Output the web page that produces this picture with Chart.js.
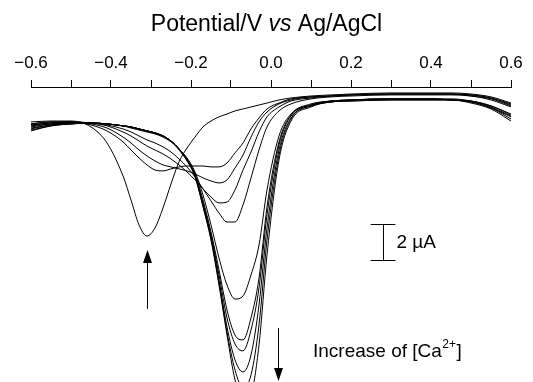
<!DOCTYPE html>
<html>
<head>
<meta charset="utf-8">
<script src="https://cdn.jsdelivr.net/npm/chart.js@4.4.0/dist/chart.umd.min.js"></script>
<style>
  html, body { margin: 0; padding: 0; background: #fff; }
  #wrap { width: 533px; height: 382px; }
</style>
</head>
<body>
<div id="wrap"><canvas id="cv" width="533" height="382"></canvas></div>
<script>
// potential (V vs Ag/AgCl), shared by every scan
const potential = [-0.6, -0.55, -0.5, -0.45, -0.41, -0.37, -0.35, -0.33, -0.31, -0.29, -0.27, -0.25, -0.23, -0.21, -0.19, -0.17, -0.15, -0.13, -0.11, -0.09, -0.07, -0.05, -0.03, -0.01, 0.02, 0.05, 0.1, 0.15, 0.2, 0.3, 0.4, 0.45, 0.5, 0.55, 0.6];

// current in uA, one scan per Ca2+ addition
const scan0 = [-1.22, -1.17, -1.17, -1.5, -2.39, -4.22, -5.56, -6.94, -7.56, -7.11, -6.0, -4.67, -3.44, -2.67, -2.06, -1.5, -1.17, -0.94, -0.78, -0.61, -0.5, -0.39, -0.28, -0.17, 0, 0.11, 0.22, 0.28, 0.33, 0.39, 0.39, 0.39, 0.33, 0.17, -0.17];
const scan1 = [-1.33, -1.22, -1.22, -1.39, -1.72, -2.33, -2.78, -3.22, -3.61, -3.89, -3.94, -3.83, -3.72, -3.67, -3.67, -3.67, -3.72, -3.72, -3.5, -2.94, -2.39, -1.61, -1.0, -0.5, -0.17, 0.06, 0.17, 0.22, 0.28, 0.33, 0.33, 0.33, 0.28, 0.11, -0.22];
const scan2 = [-1.33, -1.22, -1.22, -1.33, -1.56, -2.06, -2.39, -2.78, -3.11, -3.39, -3.61, -3.72, -3.83, -3.94, -4.11, -4.33, -4.5, -4.61, -4.44, -3.78, -3.06, -2.06, -1.22, -0.67, -0.22, 0, 0.17, 0.22, 0.28, 0.33, 0.33, 0.33, 0.28, 0.11, -0.28];
const scan3 = [-1.39, -1.28, -1.22, -1.28, -1.44, -1.78, -2.0, -2.28, -2.56, -2.78, -3.0, -3.28, -3.61, -4.0, -4.44, -4.94, -5.39, -5.72, -5.67, -5.0, -3.89, -2.89, -1.78, -0.94, -0.39, -0.06, 0.11, 0.22, 0.28, 0.33, 0.33, 0.33, 0.22, 0.06, -0.33];
const scan4 = [-1.39, -1.28, -1.22, -1.28, -1.39, -1.61, -1.78, -2.0, -2.22, -2.39, -2.61, -2.89, -3.28, -3.72, -4.28, -4.94, -5.61, -6.28, -6.78, -6.78, -5.83, -4.33, -2.78, -1.5, -0.61, -0.22, 0.06, 0.17, 0.22, 0.28, 0.28, 0.28, 0.22, 0, -0.39];
const scan5 = [-1.44, -1.33, -1.28, -1.28, -1.33, -1.44, -1.56, -1.67, -1.78, -1.89, -2.06, -2.33, -2.72, -3.22, -4.0, -5.28, -6.94, -8.78, -10.28, -11.06, -10.89, -9.72, -8.06, -5.0, -2.0, -0.78, -0.22, -0.06, 0, 0.06, 0.06, 0.06, -0.06, -0.33, -0.78];
const scan6 = [-1.5, -1.33, -1.28, -1.28, -1.33, -1.44, -1.5, -1.61, -1.72, -1.83, -2.0, -2.28, -2.72, -3.28, -4.11, -5.56, -7.33, -9.44, -11.67, -13.06, -13.33, -12.11, -9.89, -5.94, -2.33, -0.83, -0.28, -0.06, 0, 0.06, 0.06, 0, -0.06, -0.33, -0.83];
const scan7 = [-1.56, -1.39, -1.28, -1.28, -1.33, -1.44, -1.5, -1.61, -1.72, -1.83, -2.0, -2.28, -2.72, -3.33, -4.17, -5.72, -7.5, -9.72, -12.11, -13.56, -13.94, -12.78, -10.44, -6.39, -2.5, -0.89, -0.28, -0.06, 0, 0.06, 0.06, 0, -0.06, -0.39, -0.89];
const scan8 = [-1.61, -1.39, -1.33, -1.28, -1.33, -1.44, -1.5, -1.61, -1.72, -1.83, -2.0, -2.28, -2.72, -3.33, -4.22, -5.83, -7.61, -10.0, -12.61, -14.44, -15.11, -14.17, -11.39, -7.11, -2.78, -1.0, -0.33, -0.11, 0, 0.06, 0.06, 0, -0.11, -0.44, -0.94];
const scan9 = [-1.67, -1.44, -1.33, -1.28, -1.33, -1.44, -1.5, -1.61, -1.72, -1.83, -2.0, -2.28, -2.72, -3.33, -4.22, -5.89, -7.72, -10.17, -12.89, -15.0, -16.0, -15.28, -12.5, -7.78, -3.06, -1.06, -0.33, -0.11, -0.06, 0, 0, 0, -0.11, -0.44, -1.06];
const scan10 = [-1.72, -1.44, -1.33, -1.28, -1.33, -1.44, -1.5, -1.61, -1.72, -1.83, -2.0, -2.28, -2.78, -3.39, -4.28, -5.94, -7.78, -10.28, -13.06, -15.56, -16.83, -16.39, -13.61, -8.61, -3.33, -1.17, -0.39, -0.11, -0.06, 0, 0, 0, -0.17, -0.5, -1.17];

const scans = [scan0, scan1, scan2, scan3, scan4, scan5, scan6, scan7, scan8, scan9, scan10];

// labelled ticks on the top axis (minor ticks every 0.1 V have no label)
const tickValues = [-0.6, -0.4, -0.2, 0, 0.2, 0.4, 0.6];
const tickLabels = ['\u22120.6', '\u22120.4', '\u22120.2', '0.0', '0.2', '0.4', '0.6'];

// annotations, in data units
const scaleBar = { x: 0.28, top: -6.89, size: 2, half: 0.031, label: '2 \u00b5A' };
const arrowUp = { x: -0.31, from: -11.61, to: -8.33 };
const arrowDown = { x: 0.0175, from: -12.67, to: -15.61 };
const caNote = { x: 0.105, y: -14.28 };

const FONT = 'Arial, "Liberation Sans", sans-serif';

const datasets = scans.map(s => ({
    data: potential.map((p, i) => ({ x: p, y: s[i] })),
    borderColor: '#000',
    borderWidth: 1,
    pointRadius: 0,
    fill: false,
    cubicInterpolationMode: 'monotone'
}));

function arrow(ctx, x, y1, y2) {
    const dir = y2 < y1 ? 1 : -1; // 1 = pointing up
    const head = 13;
    ctx.beginPath();
    ctx.moveTo(x, y1);
    ctx.lineTo(x, y2 + dir * head);
    ctx.stroke();
    ctx.beginPath();
    ctx.moveTo(x, y2);
    ctx.lineTo(x - 4.5, y2 + dir * head);
    ctx.lineTo(x + 4.5, y2 + dir * head);
    ctx.closePath();
    ctx.fill();
}

const extras = {
    id: 'extras',
    afterDraw(chart) {
        const ctx = chart.ctx;
        const xs = chart.scales.x, ys = chart.scales.y;
        ctx.save();
        ctx.fillStyle = '#000';
        ctx.strokeStyle = '#000';
        ctx.lineWidth = 1;

        // axis title with italic "vs"
        const parts = [
            { t: 'Potential/V ', f: '23px ' + FONT },
            { t: 'vs', f: 'italic 23px ' + FONT },
            { t: ' Ag/AgCl', f: '23px ' + FONT }
        ];
        let w = 0;
        parts.forEach(p => { ctx.font = p.f; p.w = ctx.measureText(p.t).width; w += p.w; });
        let tx = chart.width / 2 - w / 2;
        ctx.textBaseline = 'middle';
        parts.forEach(p => { ctx.font = p.f; ctx.fillText(p.t, tx, 25); tx += p.w; });

        // scale bar
        const bx = Math.round(xs.getPixelForValue(scaleBar.x)) + 0.5;
        const b1 = Math.round(ys.getPixelForValue(scaleBar.top)) + 0.5;
        const b2 = Math.round(ys.getPixelForValue(scaleBar.top - scaleBar.size)) + 0.5;
        const bl = xs.getPixelForValue(scaleBar.x - scaleBar.half);
        const br = xs.getPixelForValue(scaleBar.x + scaleBar.half);
        ctx.beginPath();
        ctx.moveTo(bl, b1); ctx.lineTo(br, b1);
        ctx.moveTo(bl, b2); ctx.lineTo(br, b2);
        ctx.moveTo(bx, b1); ctx.lineTo(bx, b2);
        ctx.stroke();
        ctx.font = '19px ' + FONT;
        ctx.textBaseline = 'middle';
        ctx.fillText(scaleBar.label, br + 1, (b1 + b2) / 2);

        // arrows
        arrow(ctx, Math.round(xs.getPixelForValue(arrowUp.x)) + 0.5,
            ys.getPixelForValue(arrowUp.from), ys.getPixelForValue(arrowUp.to));
        arrow(ctx, Math.round(xs.getPixelForValue(arrowDown.x)) + 0.5,
            ys.getPixelForValue(arrowDown.from), ys.getPixelForValue(arrowDown.to));

        // "Increase of [Ca2+]"
        let nx = xs.getPixelForValue(caNote.x);
        const ny = ys.getPixelForValue(caNote.y);
        ctx.textBaseline = 'alphabetic';
        ctx.font = '19px ' + FONT;
        ctx.fillText('Increase of [Ca', nx, ny);
        nx += ctx.measureText('Increase of [Ca').width + 0.5;
        ctx.font = '12px ' + FONT;
        ctx.fillText('2+', nx, ny - 9);
        nx += ctx.measureText('2+').width + 0.5;
        ctx.font = '19px ' + FONT;
        ctx.fillText(']', nx, ny);
        ctx.restore();
    }
};

new Chart(document.getElementById('cv'), {
    type: 'line',
    data: { datasets: datasets },
    options: {
        responsive: false,
        animation: false,
        devicePixelRatio: 1,
        layout: { padding: { left: 31, right: 22, top: 0, bottom: 0 } },
        plugins: { legend: { display: false }, tooltip: { enabled: false } },
        scales: {
            x: {
                type: 'linear',
                position: 'top',
                min: -0.6,
                max: 0.6,
                afterFit(scale) { scale.height = 87; },
                ticks: {
                    stepSize: 0.1,
                    padding: 6,
                    color: '#000',
                    font: { family: FONT, size: 17 },
                    maxRotation: 0,
                    autoSkip: false,
                    callback(v) {
                        const k = tickValues.findIndex(t => Math.abs(t - v) < 1e-6);
                        return k >= 0 ? tickLabels[k] : '';
                    }
                },
                grid: { drawOnChartArea: false, drawTicks: true, tickLength: 7, color: '#000', lineWidth: 1 },
                border: { display: true, color: '#000', width: 1 }
            },
            y: {
                display: false,
                min: -15.67,
                max: 0.72
            }
        }
    },
    plugins: [extras]
});
</script>
</body>
</html>
